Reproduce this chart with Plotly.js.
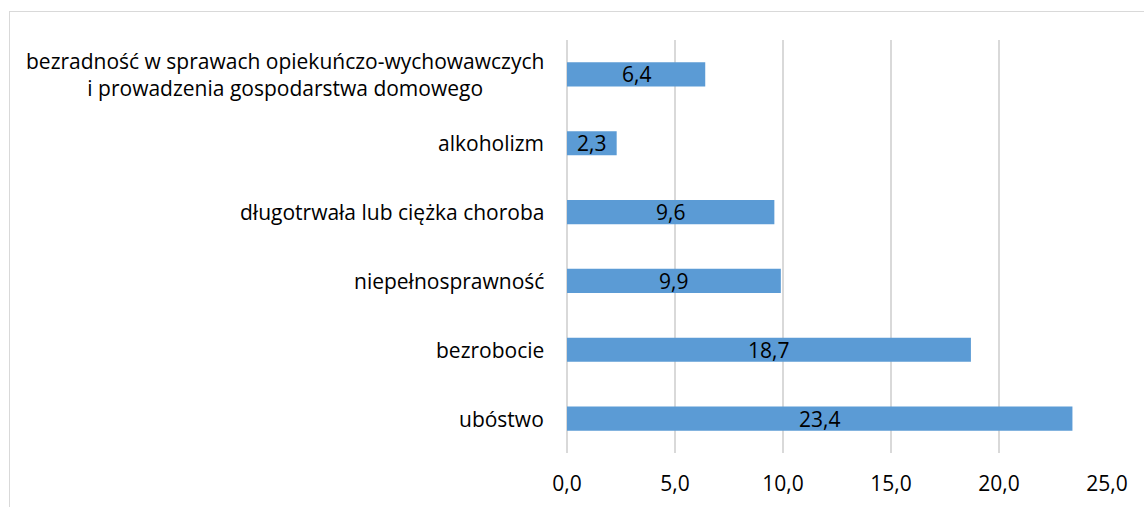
<!DOCTYPE html>
<html><head><meta charset="utf-8">
<script src="https://cdn.plot.ly/plotly-3.0.1.min.js"></script>
<style>
html,body{margin:0;padding:0;background:#fff;}
#frame{position:absolute;left:9px;top:11px;width:1200px;height:600px;border-top:1px solid #d9d9d9;border-left:1px solid #d9d9d9;}
#chart{position:absolute;left:0;top:0;width:1144px;height:507px;}
</style></head>
<body>
<div id="frame"></div>
<div id="chart"></div>
<script>
const categories = [
  "bezradność w sprawach opiekuńczo-wychowawczych<br>i prowadzenia gospodarstwa domowego",
  "alkoholizm",
  "długotrwała lub ciężka choroba",
  "niepełnosprawność",
  "bezrobocie",
  "ubóstwo"
];
const values = [6.4, 2.3, 9.6, 9.9, 18.7, 23.4];
const xTicks = [0, 5, 10, 15, 20, 25];

const FONT = "Open Sans, sans-serif";
const FS = 21;

const trace = {
  type: 'bar',
  orientation: 'h',
  x: values,
  y: categories,
  marker: {color: '#5b9bd5'},
  textposition: 'none',
  hoverinfo: 'none'
};

const catLabels = categories.map(c => ({
  xref: 'paper', yref: 'y', x: 0, y: c,
  text: c, showarrow: false, xanchor: 'right', align: 'center',
  xshift: -21, font: {family: FONT, size: FS, color: '#000'}
}));

const fmt = v => v.toFixed(1).replace('.', ',');
const valueLabels = values.map((v, i) => ({
  xref: 'x', yref: 'y', x: v / 2, y: categories[i],
  text: fmt(v), showarrow: false, xanchor: 'center', yanchor: 'middle',
  font: {family: FONT, size: FS, color: '#000'}
}));

const layout = {
  width: 1144, height: 507,
  margin: {l: 567, r: 37, t: 40, b: 54, pad: 0},
  paper_bgcolor: 'rgba(0,0,0,0)',
  plot_bgcolor: 'rgba(0,0,0,0)',
  separators: ', ',
  bargap: 0.65,
  showlegend: false,
  xaxis: {
    range: [0, 25], tickvals: xTicks, tickformat: '.1f',
    showgrid: true, gridcolor: '#d9d9d9', gridwidth: 1.5,
    zeroline: true, zerolinecolor: '#d9d9d9', zerolinewidth: 1.5,
    showline: false,
    ticks: 'outside', ticklen: 12, tickcolor: 'rgba(0,0,0,0)',
    tickfont: {family: FONT, size: FS, color: '#000'}
  },
  yaxis: {
    type: 'category', autorange: 'reversed',
    showticklabels: false, showgrid: false, zeroline: false, showline: false
  },
  annotations: catLabels.concat(valueLabels)
};

Plotly.newPlot('chart', [trace], layout, {displayModeBar: false, staticPlot: true});
</script>
</body></html>
